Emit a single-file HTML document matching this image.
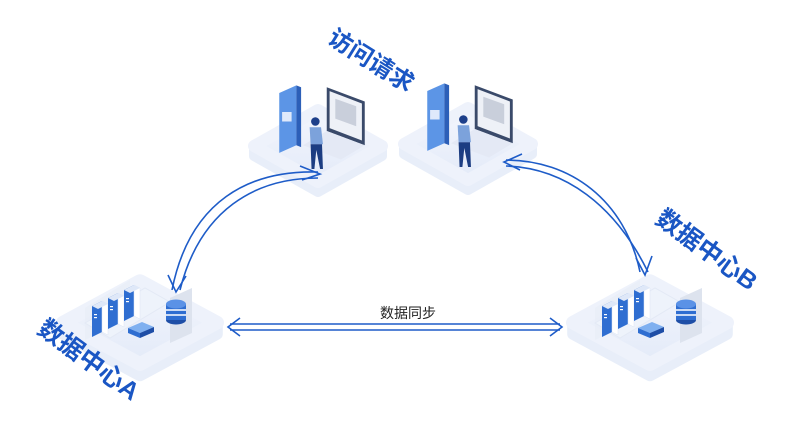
<!DOCTYPE html>
<html><head><meta charset="utf-8"><style>
html,body{margin:0;padding:0;background:#fff;}
svg{display:block;}
text{font-family:"Liberation Sans","Noto Sans CJK SC",sans-serif;font-weight:bold;fill:#1a56c4;}
</style></head><body>
<svg width="800" height="444" viewBox="0 0 800 444" xmlns="http://www.w3.org/2000/svg">
<defs>
<linearGradient id="pf" x1="0" y1="0" x2="0" y2="1"><stop offset="0" stop-color="#f3f6fd"/><stop offset="1" stop-color="#e3eaf8"/></linearGradient>
<linearGradient id="side" x1="0" y1="0" x2="0" y2="1"><stop offset="0" stop-color="#dfe7f7"/><stop offset="1" stop-color="#f4f7fd"/></linearGradient>
<g id="plat">
<path d="M-64,4 L0,-32 L64,4 L64,14 L0,50 L-64,14 Z" fill="url(#side)" stroke="#e8eef9" stroke-linejoin="round" stroke-width="10"/>
<path d="M-64,4 L0,-32 L64,4 L0,40 Z" fill="url(#pf)" stroke="#eef2fb" stroke-linejoin="round" stroke-width="12"/>
</g>
<g id="user">
<path d="M-45,-60 L-27,-68 L-27,-5 L-45,3 Z" fill="#5c95e6"/>
<path d="M-27,-68 L-22,-66 L-22,-3 L-27,-5 Z" fill="#2c5fb8"/>
<rect x="-42" y="-40" width="10" height="10" fill="#dfe9fb"/>
<path d="M5,-66 L45,-51 L45,-5 L5,-20 Z" fill="#3a4a6a"/>
<path d="M8,-62 L42,-49 L42,-10 L8,-23 Z" fill="#eef1f7"/>
<path d="M14,-54 L36,-46 L36,-25 L14,-33 Z" fill="#c9cfdb"/>
<path d="M5,-20 L45,-5 L20,10 L-20,-5 Z" fill="#e4e9f5"/>
<circle cx="-7" cy="-30" r="4.5" fill="#1d3f8a"/>
<path d="M-13,-24 L-1,-24 L1,-6 L-12,-6 Z" fill="#7ca2db"/>
<path d="M-12,-6 L0,-6 L1,20 L-2,20 L-6,0 L-8,20 L-11,20 Z" fill="#1c3d82"/>
</g>
<g id="server">
<path d="M-10,-4 L0,-9 L0,22 L-10,27 Z" fill="#2f6ed1"/>
<path d="M0,-9 L6,-6 L6,25 L0,22 Z" fill="#ffffff" stroke="#dbe4f4" stroke-width="0.5"/>
<path d="M-10,-4 L0,-9 L6,-6 L-4,-1 Z" fill="#dfe8f8"/>
<rect x="-8" y="4" width="3" height="1.2" fill="#fff"/>
<rect x="-8" y="7" width="3" height="1.2" fill="#fff"/>
</g>
<g id="db">
<ellipse cx="0" cy="16" rx="10" ry="4.5" fill="#1e4ea6"/>
<rect x="-10" y="0" width="20" height="16" fill="#2f6ed1"/>
<line x1="-10" y1="6" x2="10" y2="6" stroke="#fff" stroke-width="1.5"/>
<line x1="-10" y1="11" x2="10" y2="11" stroke="#fff" stroke-width="1.5"/>
<ellipse cx="0" cy="0" rx="10" ry="4.5" fill="#5b92e6"/>
</g>
<g id="dc">
<use href="#plat" transform="scale(1.2,1.15)"/>
<path d="M-55,-10 L-10,-38 L-10,0 L-55,22 Z" fill="#e9eef8" opacity="0.8"/>
<path d="M-55,5 L5,-30 L30,-16 L-30,20 Z" fill="#eef3fb" stroke="#e3e9f5"/>
<use href="#server" transform="translate(-38,-8)"/>
<use href="#server" transform="translate(-22,-16)"/>
<use href="#server" transform="translate(-6,-24)"/>
<path d="M30,-20 L52,-30 L52,15 L30,25 Z" fill="#dde3ee"/>
<use href="#db" transform="translate(36,-14)"/>
<path d="M-12,10 L2,4 L14,9 L0,15 Z" fill="#7fb0f0"/>
<path d="M-12,10 L0,15 L0,20 L-12,15 Z" fill="#2f6ed1"/>
<path d="M0,15 L14,9 L14,14 L0,20 Z" fill="#1e4ea6"/>
</g>
</defs>

<use href="#plat" transform="translate(318,142)"/>
<use href="#user" transform="translate(322,150) scale(0.95)"/>
<use href="#plat" transform="translate(468,140)"/>
<use href="#user" transform="translate(470,148) scale(0.95)"/>

<use href="#dc" transform="translate(140,318)"/>
<use href="#dc" transform="translate(650,318)"/>

<g fill="none" stroke="#1e5cc8" stroke-width="1.6">
<path d="M318,172 C250,170 190,200 172,290"/>
<path d="M318,178 C255,178 200,210 180,290"/>
<path d="M300,166 L320,174 L302,180"/>
<path d="M168,275 L176,292 L186,276"/>
<path d="M506,160 C570,160 625,200 640,272"/>
<path d="M506,166 C565,168 615,205 648,272"/>
<path d="M522,154 L504,162 L520,170"/>
<path d="M636,258 L645,275 L652,256"/>
<path d="M230,324 L560,324"/>
<path d="M230,330 L560,330"/>
<path d="M240,318 L228,327 L240,336"/>
<path d="M550,318 L562,327 L550,336"/>
</g>

<text x="380" y="318" font-size="14" style="font-weight:normal;fill:#222">数据同步</text>
<text font-size="24" transform="translate(326,42) rotate(32)">访问请求</text>
<text font-size="25" transform="translate(36,332) rotate(36)">数据中心A</text>
<text font-size="25" transform="translate(654,222) rotate(36)">数据中心B</text>
</svg>
</body></html>
